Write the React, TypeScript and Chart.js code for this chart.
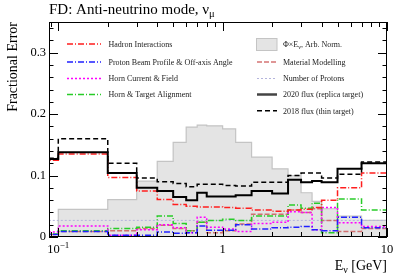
import React, { useEffect, useRef } from 'react';
import { Chart, registerables } from 'chart.js';

Chart.register(...registerables);

// ---------- data ----------
const binEdges = [0.05, 0.1, 0.2, 0.3, 0.4, 0.5, 0.6, 0.7, 0.8, 1.0, 1.2, 1.5, 2.0, 2.5, 3.0, 3.5, 4.0, 5.0, 7.0, 10.0];

const fluxShape = [0, 0.045, 0.061, 0.091, 0.123, 0.154, 0.179, 0.182, 0.181, 0.176, 0.154, 0.130, 0.111, 0.100, 0.072, 0.058, 0.046, 0.034, 0.027];
const hadronInteractions = [0.125, 0.135, 0.097, 0.075, 0.061, 0.053, 0.050, 0.049, 0.049, 0.048, 0.047, 0.044, 0.042, 0.044, 0.045, 0.048, 0.060, 0.080, 0.104];
const protonBeamProfile = [0.004, 0.009, 0.003, 0.003, 0.008, 0.006, 0.007, 0.018, 0.011, 0.011, 0.020, 0.013, 0.015, 0.016, 0.017, 0.012, 0.010, 0.032, 0.015];
const hornCurrentField = [0.008, 0.018, 0.003, 0.012, 0.020, 0.015, 0.007, 0.032, 0.016, 0.013, 0.009, 0.022, 0.024, 0.041, 0.040, 0.012, 0.048, 0.023, 0.017];
const hornTargetAlignment = [0.005, 0.010, 0.014, 0.016, 0.034, 0.022, 0.010, 0.024, 0.027, 0.029, 0.027, 0.034, 0.034, 0.052, 0.047, 0.055, 0.007, 0.062, 0.044];
const materialModelling = [0.004, 0.009, 0.010, 0.014, 0.019, 0.014, 0.010, 0.024, 0.007, 0.010, 0.021, 0.037, 0.037, 0.044, 0.040, 0.046, 0.027, 0.009, 0.014];
const numberOfProtons = [0.027, 0.027, 0.027, 0.027, 0.027, 0.027, 0.027, 0.027, 0.027, 0.027, 0.027, 0.027, 0.027, 0.027, 0.027, 0.027, 0.027, 0.027, 0.027];
const flux2020 = [0.127, 0.138, 0.104, 0.080, 0.075, 0.065, 0.060, 0.072, 0.066, 0.066, 0.068, 0.075, 0.071, 0.093, 0.089, 0.091, 0.089, 0.111, 0.120];
const flux2018 = [0.128, 0.160, 0.120, 0.096, 0.090, 0.087, 0.082, 0.086, 0.086, 0.084, 0.083, 0.089, 0.089, 0.100, 0.104, 0.104, 0.096, 0.102, 0.122];

const yTickValues = [0, 0.1, 0.2, 0.3];
const xLabelTicks = [0.1, 1, 10];
const xMinorTicks = [0.09, 0.2, 0.3, 0.4, 0.5, 0.6, 0.7, 0.8, 0.9, 2, 3, 4, 5, 6, 7, 8, 9];

const FONT = '"Liberation Serif", "Times New Roman", serif';

const C_RED = '#ff1e1e';
const C_BLUE = '#2020ff';
const C_MAG = '#ff00ff';
const C_GREEN = '#28cc28';
const C_MAT = 'rgba(205,90,90,0.85)';
const C_POT = '#b4b4dc';
const DASHDOT = [6, 2, 1, 2];

function stepPoints(values: number[]) {
  const pts = values.map((v, i) => ({ x: binEdges[i], y: v }));
  pts.push({ x: binEdges[binEdges.length - 1], y: values[values.length - 1] });
  return pts;
}

type Part = { t: string; size: number; dy: number };

function drawRich(ctx: CanvasRenderingContext2D, parts: Part[], x: number, y: number, align: 'left' | 'right' | 'center') {
  let total = 0;
  const widths = parts.map((p) => {
    ctx.font = `${p.size}px ${FONT}`;
    const w = ctx.measureText(p.t).width;
    total += w;
    return w;
  });
  let cx = align === 'left' ? x : align === 'right' ? x - total : x - total / 2;
  ctx.textAlign = 'left';
  ctx.textBaseline = 'alphabetic';
  parts.forEach((p, i) => {
    ctx.font = `${p.size}px ${FONT}`;
    ctx.fillText(p.t, cx, y + p.dy);
    cx += widths[i];
  });
}

const decorPlugin = {
  id: 'decor',
  afterDraw(chart: any) {
    const ctx: CanvasRenderingContext2D = chart.ctx;
    const { left, right, top, bottom } = chart.chartArea;
    const xs = chart.scales.x;
    const ys = chart.scales.y;
    ctx.save();
    ctx.strokeStyle = '#000';
    ctx.fillStyle = '#000';
    ctx.lineWidth = 1;
    ctx.setLineDash([]);
    // frame
    ctx.strokeRect(Math.round(left) + 0.5, Math.round(top) + 0.5, Math.round(right - left) - 1, Math.round(bottom - top) - 1);
    // y ticks
    for (let k = 0; k <= 17; k++) {
      const v = k * 0.02;
      const py = Math.round(ys.getPixelForValue(v)) + 0.5;
      const len = k % 5 === 0 ? 9 : 4.5;
      ctx.beginPath();
      ctx.moveTo(left, py);
      ctx.lineTo(left + len, py);
      ctx.moveTo(right, py);
      ctx.lineTo(right - len, py);
      ctx.stroke();
    }
    // x ticks
    const drawXTick = (v: number, len: number) => {
      const px = Math.round(xs.getPixelForValue(v)) + 0.5;
      ctx.beginPath();
      ctx.moveTo(px, bottom);
      ctx.lineTo(px, bottom - len);
      ctx.moveTo(px, top);
      ctx.lineTo(px, top + len);
      ctx.stroke();
    };
    xLabelTicks.forEach((v) => drawXTick(v, 9));
    xMinorTicks.forEach((v) => drawXTick(v, 5));

    // x tick labels
    const ly = bottom + 16;
    xLabelTicks.forEach((v) => {
      const px = xs.getPixelForValue(v);
      if (v === 0.1) {
        drawRich(ctx, [
          { t: '10', size: 12.5, dy: 0 },
          { t: '\u22121', size: 9, dy: -5 },
        ], px, ly, 'center');
      } else {
        drawRich(ctx, [{ t: String(v), size: 12.5, dy: 0 }], px, ly, 'center');
      }
    });

    // x axis title
    drawRich(ctx, [
      { t: 'E', size: 14, dy: 0 },
      { t: '\u03bd', size: 10, dy: 3 },
      { t: ' [GeV]', size: 14, dy: 0 },
    ], right, 270, 'right');

    // y axis title
    ctx.save();
    ctx.translate(16.5, top);
    ctx.rotate(-Math.PI / 2);
    ctx.font = `14px ${FONT}`;
    ctx.textAlign = 'right';
    ctx.textBaseline = 'alphabetic';
    ctx.fillText('Fractional Error', 0, 0);
    ctx.restore();

    // title
    drawRich(ctx, [
      { t: 'FD: Anti-neutrino mode, \u03bd', size: 15, dy: 0 },
      { t: '\u03bc', size: 10.5, dy: 3 },
    ], left, 13.5, 'left');

    // legend
    const rowsY = [44, 62, 78.5, 94.5, 110.7];
    const sample = (x0: number, x1: number, y: number, color: string, dash: number[], w: number) => {
      ctx.save();
      ctx.strokeStyle = color;
      ctx.lineWidth = w;
      ctx.setLineDash(dash);
      ctx.beginPath();
      ctx.moveTo(x0, y);
      ctx.lineTo(x1, y);
      ctx.stroke();
      ctx.restore();
    };
    const leftEntries = [
      { label: 'Hadron Interactions', color: C_RED, dash: DASHDOT },
      { label: 'Proton Beam Profile & Off-axis Angle', color: C_BLUE, dash: DASHDOT },
      { label: 'Horn Current & Field', color: C_MAG, dash: [2, 2] },
      { label: 'Horn & Target Alignment', color: C_GREEN, dash: DASHDOT },
    ];
    ctx.fillStyle = '#222';
    leftEntries.forEach((e, i) => {
      sample(67, 101, rowsY[i], e.color, e.dash, 1.5);
      ctx.fillStyle = '#222';
      drawRich(ctx, [{ t: e.label, size: 8, dy: 0 }], 108.5, rowsY[i] + 2.8, 'left');
    });
    // right column
    ctx.fillStyle = '#e4e4e4';
    ctx.fillRect(256.5, 38.5, 20.5, 12);
    ctx.strokeStyle = '#c4c4c4';
    ctx.lineWidth = 1;
    ctx.strokeRect(256.5, 38.5, 20.5, 12);
    ctx.fillStyle = '#222';
    drawRich(ctx, [
      { t: '\u03a6\u00d7E', size: 8, dy: 0 },
      { t: '\u03bd', size: 6, dy: 2 },
      { t: ', Arb. Norm.', size: 8, dy: 0 },
    ], 283, rowsY[0] + 2.8, 'left');
    const rightEntries = [
      { label: 'Material Modelling', color: C_MAT, dash: [5, 2], w: 1.5 },
      { label: 'Number of Protons', color: C_POT, dash: [2, 2], w: 1 },
      { label: '2020 flux (replica target)', color: '#444', dash: [] as number[], w: 2.5 },
      { label: '2018 flux (thin target)', color: '#000', dash: [5, 3], w: 1.5 },
    ];
    rightEntries.forEach((e, i) => {
      sample(257, 277, rowsY[i + 1], e.color, e.dash, e.w);
      ctx.fillStyle = '#222';
      drawRich(ctx, [{ t: e.label, size: 8, dy: 0 }], 283, rowsY[i + 1] + 2.8, 'left');
    });
    ctx.restore();
  },
};

function lineDs(label: string, values: number[], color: string, dash: number[], width: number, order: number) {
  return {
    label,
    data: stepPoints(values),
    borderColor: color,
    borderDash: dash,
    borderWidth: width,
    stepped: 'before' as const,
    fill: false,
    pointRadius: 0,
    order,
    clip: 0,
  };
}

export default function App() {
  const ref = useRef<HTMLCanvasElement | null>(null);
  useEffect(() => {
    if (!ref.current) return;
    const chart = new Chart(ref.current, {
      type: 'line',
      data: {
        datasets: [
          {
            label: 'Flux',
            data: stepPoints(fluxShape),
            borderColor: '#c4c4c4',
            backgroundColor: '#e4e4e4',
            borderWidth: 1.2,
            stepped: 'before',
            fill: 'origin',
            pointRadius: 0,
            order: 100,
            clip: 0,
          } as any,
          lineDs('Number of Protons', numberOfProtons, C_POT, [2, 2], 1, 90),
          lineDs('Material Modelling', materialModelling, C_MAT, [5, 2], 1.5, 80),
          lineDs('Horn & Target Alignment', hornTargetAlignment, C_GREEN, DASHDOT, 1.5, 70),
          lineDs('Horn Current & Field', hornCurrentField, C_MAG, [2, 2], 1.5, 60),
          lineDs('Proton Beam Profile & Off-axis Angle', protonBeamProfile, C_BLUE, DASHDOT, 1.5, 50),
          lineDs('Hadron Interactions', hadronInteractions, C_RED, DASHDOT, 1.5, 40),
          lineDs('2018 flux (thin target)', flux2018, '#000', [5, 3], 1.5, 20),
          lineDs('2020 flux (replica target)', flux2020, '#000', [], 2, 10),
        ] as any,
      },
      options: {
        animation: false,
        responsive: false,
        devicePixelRatio: 1,
        layout: { padding: { top: 22, right: 20, left: 0, bottom: 0 } },
        plugins: {
          legend: { display: false },
          tooltip: { enabled: false },
          title: { display: false },
        },
        elements: { point: { radius: 0 } },
        scales: {
          x: {
            type: 'logarithmic',
            min: 0.0878,
            max: 10,
            grid: { display: false, drawTicks: false },
            border: { display: false },
            ticks: { display: false },
            afterFit: (s: any) => { s.height = 39; },
          },
          y: {
            type: 'linear',
            min: 0,
            max: 0.35,
            grid: { display: false, drawTicks: false },
            border: { display: false },
            ticks: {
              color: '#000',
              padding: 3,
              font: { family: FONT, size: 12.5 },
              callback: (v: any) => (Number(v) === 0 ? '0' : Number(v).toFixed(1)),
            },
            afterBuildTicks: (s: any) => { s.ticks = yTickValues.map((v) => ({ value: v })); },
            afterFit: (s: any) => { s.width = 49; },
          },
        },
      } as any,
      plugins: [decorPlugin],
    });
    return () => chart.destroy();
  }, []);
  return (
    <div style={{ position: 'absolute', left: 0, top: 0, width: 407, height: 276, background: '#fff' }}>
      <canvas ref={ref} width={407} height={276} style={{ display: 'block' }} />
    </div>
  );
}
